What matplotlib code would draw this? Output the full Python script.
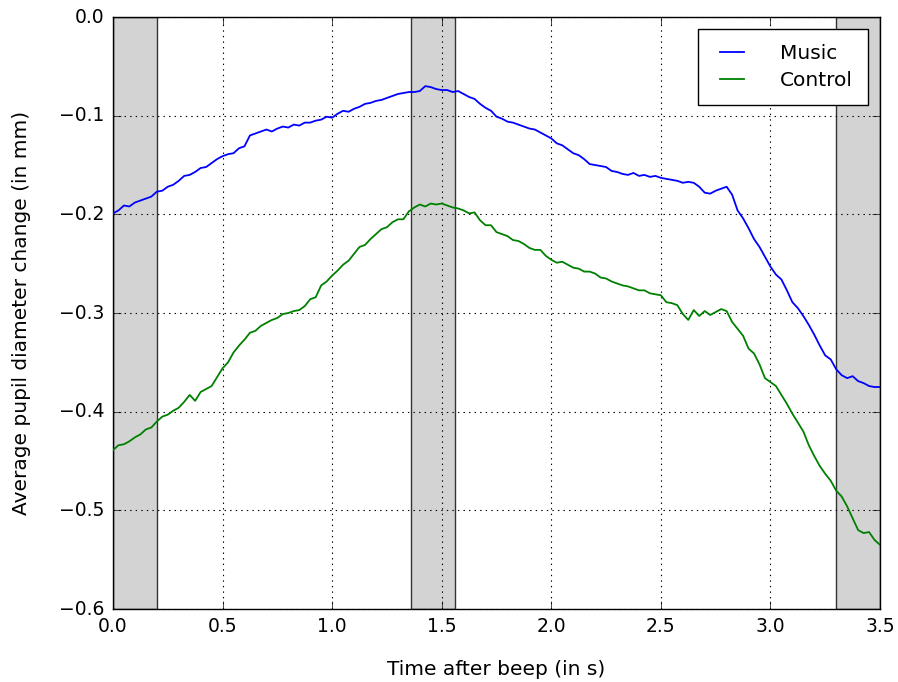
#!/usr/bin/env python3
"""Average pupil diameter change after the beep: music vs control."""

import matplotlib

matplotlib.use("Agg")
import matplotlib.pyplot as plt
import numpy as np

music = [
    -0.199, -0.196, -0.191, -0.192, -0.188, -0.186, -0.184, -0.182, -0.177, -0.176,
    -0.172, -0.170, -0.166, -0.161, -0.160, -0.157, -0.153, -0.152, -0.148, -0.144,
    -0.141, -0.139, -0.138, -0.133, -0.131, -0.120, -0.118, -0.116, -0.114, -0.116,
    -0.113, -0.111, -0.112, -0.109, -0.110, -0.107, -0.107, -0.105, -0.104, -0.101,
    -0.102, -0.098, -0.095, -0.096, -0.093, -0.091, -0.088, -0.087, -0.085, -0.084,
    -0.082, -0.080, -0.078, -0.077, -0.076, -0.076, -0.075, -0.070, -0.071, -0.073,
    -0.074, -0.074, -0.076, -0.075, -0.078, -0.081, -0.083, -0.088, -0.092, -0.095,
    -0.101, -0.103, -0.106, -0.107, -0.109, -0.111, -0.113, -0.114, -0.117, -0.120,
    -0.123, -0.128, -0.130, -0.134, -0.138, -0.140, -0.144, -0.149, -0.150, -0.151,
    -0.152, -0.156, -0.157, -0.159, -0.160, -0.158, -0.161, -0.160, -0.162, -0.161,
    -0.163, -0.164, -0.165, -0.166, -0.168, -0.167, -0.168, -0.172, -0.178, -0.179,
    -0.176, -0.174, -0.172, -0.180, -0.196, -0.204, -0.214, -0.225, -0.233, -0.243,
    -0.253, -0.261, -0.266, -0.277, -0.289, -0.295, -0.303, -0.312, -0.322, -0.333,
    -0.343, -0.347, -0.357, -0.363, -0.366, -0.364, -0.369, -0.371, -0.374, -0.375,
    -0.375,
]
control = [
    -0.439, -0.434, -0.433, -0.430, -0.426, -0.423, -0.418, -0.416, -0.410, -0.405,
    -0.403, -0.399, -0.396, -0.390, -0.383, -0.389, -0.380, -0.377, -0.374, -0.365,
    -0.356, -0.350, -0.340, -0.333, -0.327, -0.320, -0.318, -0.313, -0.310, -0.307,
    -0.305, -0.301, -0.300, -0.298, -0.297, -0.293, -0.286, -0.284, -0.272, -0.268,
    -0.262, -0.257, -0.251, -0.247, -0.240, -0.233, -0.231, -0.225, -0.220, -0.215,
    -0.213, -0.208, -0.205, -0.205, -0.197, -0.193, -0.190, -0.192, -0.189, -0.190,
    -0.189, -0.191, -0.193, -0.194, -0.196, -0.199, -0.198, -0.206, -0.211, -0.211,
    -0.218, -0.220, -0.222, -0.226, -0.227, -0.230, -0.234, -0.236, -0.236, -0.242,
    -0.246, -0.249, -0.248, -0.251, -0.254, -0.255, -0.258, -0.258, -0.260, -0.264,
    -0.265, -0.268, -0.270, -0.272, -0.273, -0.275, -0.277, -0.277, -0.280, -0.281,
    -0.282, -0.289, -0.290, -0.292, -0.301, -0.307, -0.297, -0.303, -0.298, -0.302,
    -0.299, -0.296, -0.298, -0.309, -0.316, -0.323, -0.336, -0.341, -0.352, -0.366,
    -0.370, -0.374, -0.383, -0.392, -0.402, -0.411, -0.420, -0.434, -0.445, -0.455,
    -0.463, -0.470, -0.480, -0.486, -0.496, -0.508, -0.520, -0.523, -0.522, -0.530,
    -0.535,
]
time_step = 0.025
shaded_windows = [(0.0, 0.2), (1.36, 1.56), (3.3, 3.5)]
x_ticks = [0.0, 0.5, 1.0, 1.5, 2.0, 2.5, 3.0, 3.5]
y_ticks = [-0.6, -0.5, -0.4, -0.3, -0.2, -0.1, 0.0]


def main() -> None:
    plt.style.use("classic")
    plt.rcParams["font.family"] = ["DejaVu Sans"]

    t = np.arange(len(music)) * time_step

    fig = plt.figure(figsize=(8.98, 6.82), dpi=100, facecolor="white")
    ax = fig.add_axes([0.1258, 0.107, 0.8542, 0.868])
    ax.set_facecolor("white")

    for start, stop in shaded_windows:
        ax.axvspan(start, stop, facecolor="#d3d3d3", edgecolor="#333333", linewidth=1.0, zorder=1)

    ax.plot(t, music, color="blue", linewidth=1.3, label="Music", zorder=3)
    ax.plot(t, control, color="green", linewidth=1.3, label="Control", zorder=3)

    ax.set_xlim(0.0, 3.5)
    ax.set_ylim(-0.6, 0.0)
    ax.set_xticks(x_ticks)
    ax.set_yticks(y_ticks)
    ax.set_xticklabels([f"{v:.1f}" for v in x_ticks])
    ax.set_yticklabels([f"\u2212{abs(v):.1f}" if v < 0 else f"{v:.1f}" for v in y_ticks])
    ax.tick_params(labelsize=13.5, direction="in", length=6, top=True, right=True, pad=6)
    ax.grid(True, color="black", linestyle=":", linewidth=0.8, zorder=2)
    ax.set_axisbelow(False)

    ax.set_xlabel("Time after beep (in s)", fontsize=14.5, labelpad=17)
    ax.set_ylabel("Average pupil diameter change (in mm)", fontsize=14.5, labelpad=20)

    legend = ax.legend(loc="upper right", fontsize=14.5, handlelength=1.8, borderpad=0.75,
                       labelspacing=0.38, handletextpad=1.5, borderaxespad=0.6,
                       fancybox=False, numpoints=2)
    legend.get_frame().set_edgecolor("black")
    legend.get_frame().set_linewidth(1.0)
    legend.set_zorder(5)

    fig.savefig("out.png", dpi=100, facecolor="white")
    plt.close(fig)


if __name__ == "__main__":
    main()
